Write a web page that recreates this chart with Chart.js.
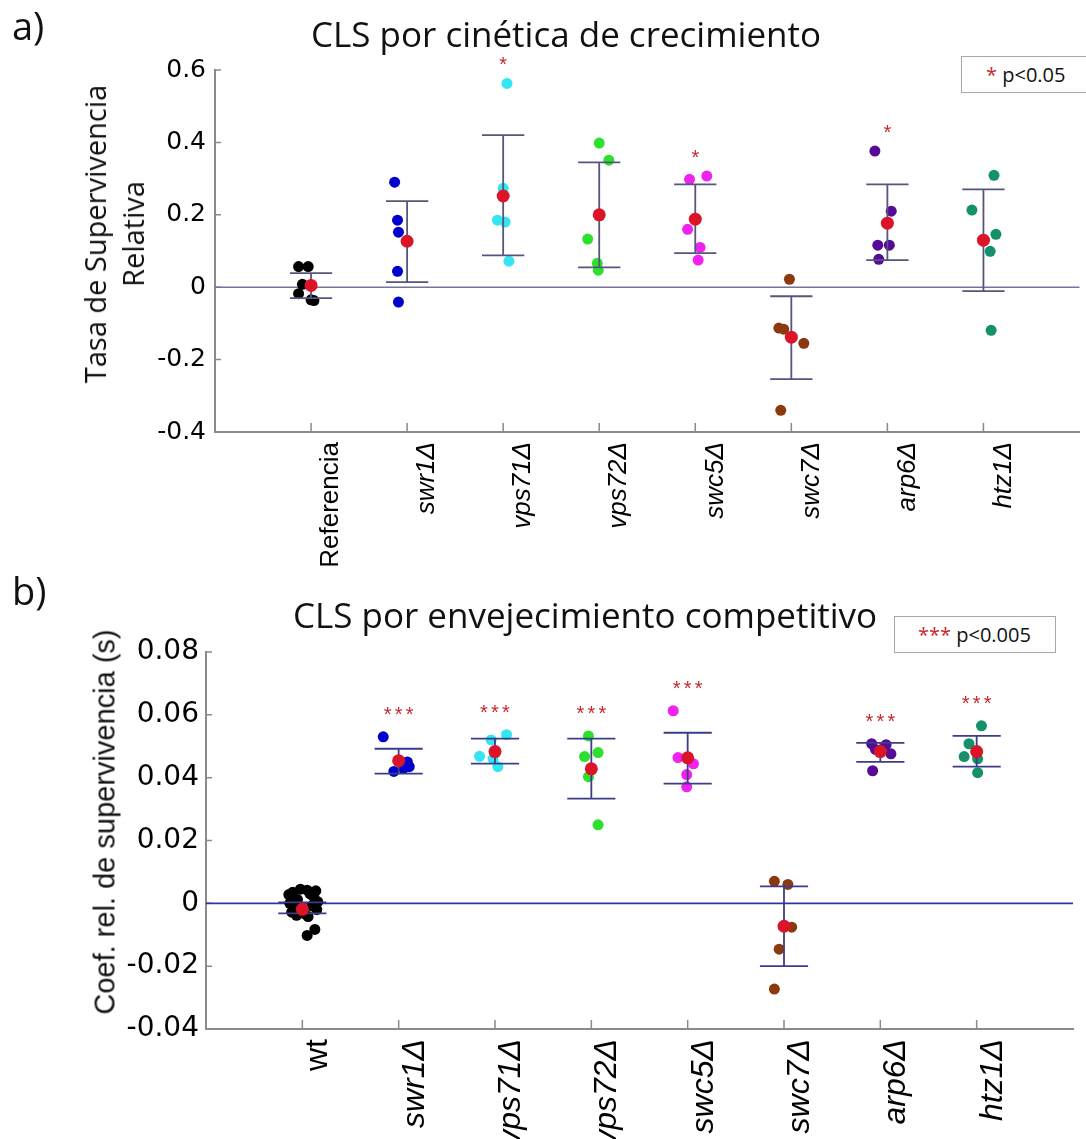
<!DOCTYPE html>
<html lang="es">
<head>
<meta charset="utf-8">
<title>CLS</title>
<script src="https://cdn.jsdelivr.net/npm/chart.js@4.4.1/dist/chart.umd.min.js"></script>
<style>
  html, body { margin: 0; padding: 0; background: #fff; }
  #fig { position: relative; width: 1086px; height: 1139px; overflow: hidden; font-family: "Open Sans", sans-serif; color: #111; }
  canvas { position: absolute; left: 0; }
  .txt { position: absolute; white-space: nowrap; line-height: 1; }
  .titulo { font-size: 35px; transform: translateX(-50%); }
  .panel { font-size: 38px; }
  .ejeY { text-align: center; transform: translate(-50%, -50%) rotate(-90deg); }
  .leyenda { position: absolute; box-sizing: border-box; border: 1.5px solid #a8a8a8; background: #fff;
             display: flex; align-items: center; white-space: nowrap; }
  .rojo { color: #c8282d; }
</style>
</head>
<body>
<div id="fig">
  <canvas id="graficoA" width="1086" height="580" style="top:0"></canvas>
  <canvas id="graficoB" width="1086" height="559" style="top:580px"></canvas>

  <div class="txt panel" style="left:12px; top:6px">a)</div>
  <div class="txt titulo" style="left:566px; top:16px">CLS por cinética de crecimiento</div>
  <div class="txt ejeY" style="left:114px; top:234px; font-size:29px; line-height:38px">Tasa de Supervivencia<br>Relativa</div>
  <div class="leyenda" style="left:961px; top:56px; width:140px; height:37px; font-size:20px; padding-left:24px">
    <span class="rojo">*</span>&nbsp;p&lt;0.05
  </div>

  <div class="txt panel" style="left:12px; top:571px">b)</div>
  <div class="txt titulo" style="left:585px; top:597px">CLS por envejecimiento competitivo</div>
  <div class="txt ejeY" style="left:105px; top:822px; font-family:'Liberation Sans', sans-serif; font-size:29px">Coef. rel. de supervivencia (s)</div>
  <div class="leyenda" style="left:894px; top:616px; width:162px; height:37px; font-size:20px; padding-left:23px">
    <span class="rojo">***</span>&nbsp;p&lt;0.005
  </div>
</div>

<script>
// ---- a) cinética de crecimiento ----
const categoriasA = ['Referencia', 'swr1Δ', 'vps71Δ', 'vps72Δ', 'swc5Δ', 'swc7Δ', 'arp6Δ', 'htz1Δ'];
const ticksA = [-0.4, -0.2, 0, 0.2, 0.4, 0.6];
// réplicas por cepa
const puntosA = [
  [0.057, 0.057, 0.008, -0.018, -0.035, -0.037],
  [0.29, 0.185, 0.152, 0.044, -0.041],
  [0.563, 0.273, 0.185, 0.18, 0.072],
  [0.398, 0.351, 0.133, 0.066, 0.047],
  [0.298, 0.307, 0.16, 0.11, 0.075],
  [0.022, -0.113, -0.116, -0.155, -0.34],
  [0.376, 0.21, 0.116, 0.116, 0.077],
  [0.309, 0.213, 0.146, 0.099, -0.119]
];
const jitterA = [
  [-0.13, -0.03, -0.09, -0.13, 0.0, 0.03],
  [-0.13, -0.10, -0.09, -0.10, -0.09],
  [0.04, 0.0, -0.06, 0.02, 0.06],
  [0.0, 0.10, -0.12, -0.02, -0.01],
  [-0.06, 0.12, -0.08, 0.05, 0.03],
  [-0.02, -0.13, -0.08, 0.13, -0.11],
  [-0.13, 0.04, -0.10, 0.02, -0.09],
  [0.11, -0.12, 0.13, 0.07, 0.08]
];
const mediaA = [0.005, 0.127, 0.252, 0.2, 0.188, -0.138, 0.177, 0.13];
const errSupA = [0.039, 0.238, 0.42, 0.345, 0.284, -0.025, 0.284, 0.27];
const errInfA = [-0.03, 0.014, 0.088, 0.055, 0.094, -0.254, 0.075, -0.011];
const sigA = ['', '', '*', '', '*', '', '*', ''];

// ---- b) envejecimiento competitivo ----
const categoriasB = ['wt', 'swr1Δ', 'vps71Δ', 'vps72Δ', 'swc5Δ', 'swc7Δ', 'arp6Δ', 'htz1Δ'];
const ticksB = [-0.04, -0.02, 0, 0.02, 0.04, 0.06, 0.08];
const puntosB = [
  [0.0045, 0.0042, 0.004, 0.0035, 0.003, 0.0028, 0.002, 0.0012, 0.0005, 0.0, -0.0008, -0.0015,
   -0.002, -0.0028, -0.0033, -0.0038, -0.0042, -0.0083, -0.0102],
  [0.053, 0.045, 0.0435, 0.043, 0.042, 0.044],
  [0.0537, 0.052, 0.0468, 0.046, 0.0435],
  [0.0533, 0.048, 0.0467, 0.0403, 0.025],
  [0.0613, 0.0464, 0.0444, 0.041, 0.0371],
  [0.007, 0.006, -0.0076, -0.0146, -0.0273],
  [0.0508, 0.0505, 0.0476, 0.049, 0.0422],
  [0.0565, 0.0508, 0.0467, 0.046, 0.0416]
];
const jitterB = [
  [-0.02, 0.05, 0.14, -0.10, 0.08, -0.14, 0.12, -0.05, 0.16, -0.13, 0.10, -0.08, 0.15, -0.11, 0.02, -0.06, 0.06, 0.13, 0.05],
  [-0.16, 0.09, 0.11, 0.05, -0.05, 0.07],
  [0.12, -0.04, -0.16, -0.02, 0.03],
  [-0.03, 0.07, -0.07, -0.03, 0.07],
  [-0.15, -0.10, 0.06, -0.01, -0.01],
  [-0.10, 0.04, 0.08, -0.05, -0.10],
  [-0.09, 0.06, 0.11, -0.05, -0.08],
  [0.05, -0.08, -0.13, 0.01, 0.01]
];
const mediaB = [-0.0019, 0.0454, 0.0483, 0.0428, 0.0463, -0.0073, 0.0483, 0.0483];
const errSupB = [0.0003, 0.0492, 0.0524, 0.0524, 0.0543, 0.0054, 0.0511, 0.0533];
const errInfB = [-0.0032, 0.0413, 0.0445, 0.0333, 0.0381, -0.02, 0.045, 0.0435];
const sigB = ['', '***', '***', '***', '***', '', '***', '***'];

const coloresCepa = ['#000000', '#0000cc', '#33e6f2', '#2de02d', '#f022f0', '#8b3a0f', '#560a96', '#14906a'];
const rojoMedia = '#dc1428';
const grisEje = '#8a8a8a';

// marcas interiores, línea del cero, barras de error y asteriscos
function capas(p) {
  return {
    id: 'capas',
    beforeDatasetsDraw(chart) {
      const { ctx, chartArea: a, scales: { x, y } } = chart;
      ctx.save();
      ctx.strokeStyle = grisEje;
      ctx.lineWidth = 1.5;
      ctx.beginPath();
      p.categorias.forEach((c, i) => {
        const px = x.getPixelForValue(i + 1);
        ctx.moveTo(px, a.bottom);
        ctx.lineTo(px, a.bottom - 9);
      });
      p.ticks.forEach(v => {
        const py = y.getPixelForValue(v);
        ctx.moveTo(a.left, py);
        ctx.lineTo(a.left + 6, py);
      });
      ctx.stroke();
      const y0 = y.getPixelForValue(0);
      ctx.strokeStyle = p.colorCero;
      ctx.lineWidth = 1.6;
      ctx.beginPath();
      ctx.moveTo(a.left, y0);
      ctx.lineTo(a.right, y0);
      ctx.stroke();
      ctx.restore();
    },
    afterDatasetDraw(chart, args) {
      if (args.index !== 1) return;
      const { ctx, scales: { x, y } } = chart;
      ctx.save();
      ctx.strokeStyle = p.colorBarra;
      ctx.lineWidth = 1.8;
      ctx.beginPath();
      p.media.forEach((m, i) => {
        const cx = x.getPixelForValue(i + 1);
        const l = x.getPixelForValue(i + 1 - p.tapa);
        const r = x.getPixelForValue(i + 1 + p.tapa);
        const hi = y.getPixelForValue(p.sup[i]);
        const lo = y.getPixelForValue(p.inf[i]);
        ctx.moveTo(cx, hi); ctx.lineTo(cx, lo);
        ctx.moveTo(l, hi); ctx.lineTo(r, hi);
        ctx.moveTo(l, lo); ctx.lineTo(r, lo);
      });
      ctx.stroke();
      ctx.restore();
    },
    afterDatasetsDraw(chart) {
      const { ctx, scales: { x, y } } = chart;
      ctx.save();
      ctx.fillStyle = '#c8282d';
      ctx.font = '20px "Liberation Sans"';
      ctx.textAlign = 'center';
      ctx.textBaseline = 'middle';
      p.sig.forEach((s, i) => {
        if (!s) return;
        const tope = y.getPixelForValue(Math.max(...p.puntos[i]));
        const cy = tope - p.sobre + 5;
        const cx = x.getPixelForValue(i + 1);
        const n = s.length;
        for (let k = 0; k < n; k++) {
          ctx.fillText('*', cx + (k - (n - 1) / 2) * 11, cy);
        }
      });
      ctx.restore();
    }
  };
}

function crearPanel(id, p) {
  const datos = [], colores = [];
  p.puntos.forEach((grupo, i) => grupo.forEach((v, j) => {
    datos.push({ x: i + 1 + p.jitter[i][j], y: v });
    colores.push(coloresCepa[i]);
  }));
  const medias = p.media.map((v, i) => ({ x: i + 1, y: v }));

  return new Chart(document.getElementById(id), {
    type: 'scatter',
    data: {
      datasets: [
        { data: medias, pointRadius: p.radioMedia, pointBackgroundColor: rojoMedia, pointBorderWidth: 0 },
        { data: datos, pointRadius: p.radio, pointBackgroundColor: colores, pointBorderWidth: 0 }
      ]
    },
    options: {
      responsive: false,
      animation: false,
      devicePixelRatio: 1,
      layout: { padding: { left: 0, top: p.arriba, right: p.derecha, bottom: 0 } },
      plugins: { legend: { display: false }, tooltip: { enabled: false } },
      scales: {
        x: {
          type: 'linear', min: 0, max: 9,
          afterBuildTicks: s => { s.ticks = p.categorias.map((c, i) => ({ value: i + 1 })); },
          afterFit: s => { s.height = p.altoX; },
          grid: { display: false, drawTicks: false },
          border: { display: true, color: grisEje, width: 2 },
          ticks: {
            autoSkip: false, minRotation: 90, maxRotation: 90,
            padding: 10, labelOffset: p.despl, color: '#000',
            font: c => ({ family: 'Liberation Sans', size: p.tamEtiqueta, style: c.index === 0 ? 'normal' : 'italic' }),
            callback: v => p.categorias[v - 1]
          }
        },
        y: {
          min: p.ticks[0], max: p.ticks[p.ticks.length - 1],
          afterBuildTicks: s => { s.ticks = p.ticks.map(v => ({ value: v })); },
          afterFit: s => { s.width = p.anchoY; },
          grid: { display: false, drawTicks: false },
          border: { display: true, color: grisEje, width: 2 },
          ticks: {
            padding: p.padY, color: '#000',
            font: { family: 'DejaVu Sans', size: p.tamNum },
            callback: v => (v === 0 ? '0' : v.toFixed(p.decimales))
          }
        }
      }
    },
    plugins: [capas(p)]
  });
}

crearPanel('graficoA', {
  categorias: categoriasA, ticks: ticksA, puntos: puntosA, jitter: jitterA,
  media: mediaA, sup: errSupA, inf: errInfA, sig: sigA,
  decimales: 1, arriba: 70, derecha: 0, altoX: 148, anchoY: 215, padY: 9,
  tamNum: 25, tamEtiqueta: 26, despl: 20, radio: 5.5, radioMedia: 6.5, tapa: 0.22, sobre: 23,
  colorCero: '#74749e', colorBarra: '#55557f'
});

crearPanel('graficoB', {
  categorias: categoriasB, ticks: ticksB, puntos: puntosB, jitter: jitterB,
  media: mediaB, sup: errSupB, inf: errInfB, sig: sigB,
  decimales: 2, arriba: 72, derecha: 13, altoX: 110, anchoY: 206, padY: 7,
  tamNum: 28, tamEtiqueta: 32, despl: 16, radio: 5.5, radioMedia: 6.5, tapa: 0.25, sobre: 26,
  colorCero: '#34349a', colorBarra: '#3c3c8a'
});
</script>
</body>
</html>
